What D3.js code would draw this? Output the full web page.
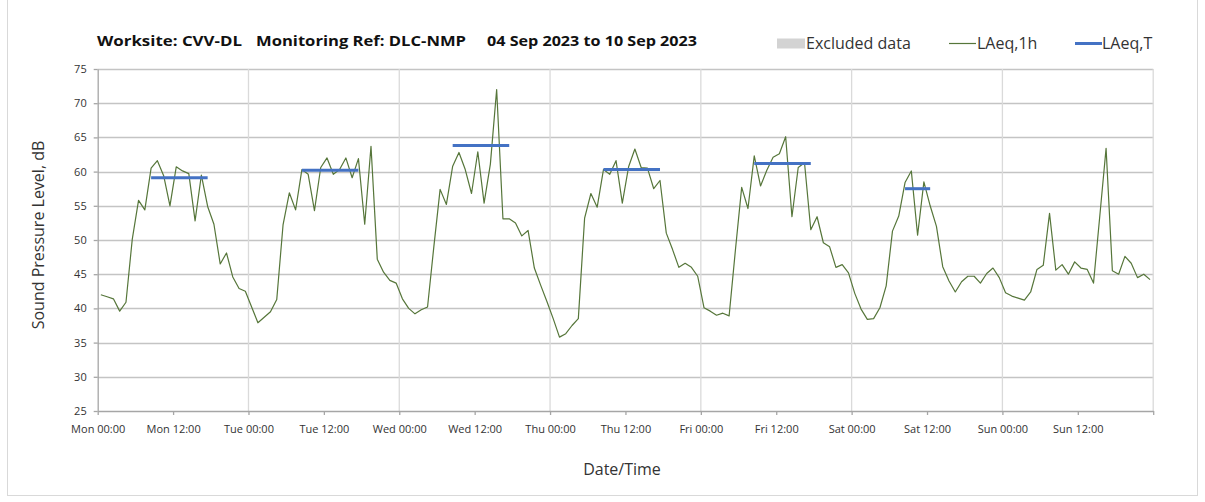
<!DOCTYPE html>
<html>
<head>
<meta charset="utf-8">
<script src="https://cdn.jsdelivr.net/npm/d3@7"></script>
<style>
  body { margin: 0; background: #fff; }
  svg { display: block; font-family: "Open Sans", sans-serif; }
</style>
</head>
<body>
<div id="chart"></div>
<script>
// LAeq,1h in dB, one value per hour (00:00 .. 23:00), one array per day
const mon = [42.0, 41.7, 41.4, 39.6, 40.9, 50.1, 55.8, 54.4, 60.5, 61.6, 59.4, 55.0,
             60.7, 60.1, 59.7, 52.8, 59.5, 54.9, 52.3, 46.5, 48.1, 44.6, 42.9, 42.5];
const tue = [40.2, 37.9, 38.7, 39.5, 41.3, 52.2, 56.9, 54.4, 60.3, 59.6, 54.3, 60.6,
             62.0, 59.6, 60.3, 62.0, 59.1, 61.9, 52.3, 63.7, 47.2, 45.3, 44.1, 43.7];
const wed = [41.4, 40.0, 39.2, 39.8, 40.2, 49.0, 57.4, 55.2, 60.8, 62.8, 60.3, 56.8,
             62.9, 55.4, 61.1, 72.0, 53.1, 53.1, 52.5, 50.6, 51.4, 45.9, 43.4, 41.0];
const thu = [38.5, 35.8, 36.3, 37.5, 38.5, 53.2, 56.8, 54.8, 60.3, 59.6, 61.6, 55.4,
             60.7, 63.3, 60.6, 60.5, 57.5, 58.7, 51.0, 48.6, 46.0, 46.6, 46.0, 44.7];
const fri = [40.1, 39.6, 39.0, 39.3, 38.9, 48.5, 57.7, 54.6, 62.3, 57.9, 60.2, 62.1,
             62.6, 65.1, 53.4, 60.6, 61.3, 51.5, 53.4, 49.6, 49.0, 46.0, 46.4, 45.2];
const sat = [42.2, 39.9, 38.4, 38.5, 40.1, 43.3, 51.3, 53.5, 58.4, 60.1, 50.7, 58.5,
             55.0, 52.0, 46.1, 44.0, 42.4, 43.9, 44.7, 44.7, 43.7, 45.1, 45.9, 44.5];
const sun = [42.3, 41.8, 41.5, 41.2, 42.4, 45.7, 46.3, 53.9, 45.6, 46.4, 45.0, 46.8,
             45.9, 45.7, 43.7, 53.5, 63.4, 45.5, 45.0, 47.6, 46.6, 44.5, 45.0, 44.2];

// LAeq,T daytime periods (drawn between first and last hourly point)
const periodFrom  = ["2023-09-04T08:30Z", "2023-09-05T08:30Z", "2023-09-06T08:30Z",
                     "2023-09-07T08:30Z", "2023-09-08T08:30Z", "2023-09-09T08:30Z"];
const periodTo    = ["2023-09-04T17:30Z", "2023-09-05T17:30Z", "2023-09-06T17:30Z",
                     "2023-09-07T17:30Z", "2023-09-08T17:30Z", "2023-09-09T12:30Z"];
const periodLevel = [59.1, 60.2, 63.8, 60.3, 61.2, 57.5];

const yTicks = [25, 30, 35, 40, 45, 50, 55, 60, 65, 70, 75];
const weekStart = new Date("2023-09-04T00:00Z");
const weekEnd = new Date("2023-09-11T00:00Z");

const W = 1205, H = 502;
const svg = d3.select("#chart").append("svg")
    .attr("width", W)
    .attr("height", H);

// chart frame
svg.append("rect")
    .attr("x", 7.5).attr("y", -2)
    .attr("width", 1190).attr("height", 497.5)
    .attr("fill", "none")
    .attr("stroke", "#d9d9d9");

const x = d3.scaleUtc().domain([weekStart, weekEnd]).range([97.7, 1153.2]);
const y = d3.scaleLinear().domain([25, 75]).range([411, 69]);

// hourly series, each value sits at the middle of its hour
const series = [];
[mon, tue, wed, thu, fri, sat, sun].forEach((day, d) => {
    day.forEach((v, h) => {
        series.push({ t: d3.utcMinute.offset(weekStart, (d * 24 + h) * 60 + 30), v: v });
    });
});

const periods = periodLevel.map((v, i) => ({
    from: new Date(periodFrom[i]), to: new Date(periodTo[i]), v: v
}));

// grid
svg.append("g")
    .selectAll("line")
    .data(yTicks.filter(t => t > 25))
    .join("line")
    .attr("x1", x.range()[0]).attr("x2", x.range()[1])
    .attr("y1", d => Math.round(y(d)) + 0.5).attr("y2", d => Math.round(y(d)) + 0.5)
    .attr("stroke", "#c4c4c4")
    .attr("stroke-width", 1.3);

svg.append("g")
    .selectAll("line")
    .data(d3.utcDay.range(d3.utcDay.offset(weekStart, 1), d3.utcDay.offset(weekEnd, 1)))
    .join("line")
    .attr("x1", d => x(d)).attr("x2", d => x(d))
    .attr("y1", y(75)).attr("y2", y(25))
    .attr("stroke", "#dadada")
    .attr("stroke-width", 1.3);

// axes
const fmt = d3.utcFormat("%a %H:%M");
const xAxis = svg.append("g")
    .attr("transform", `translate(0,${y(25)})`)
    .call(d3.axisBottom(x)
        .tickValues(d3.utcHour.every(12).range(weekStart, d3.utcHour.offset(weekEnd, 1)))
        .tickSize(4)
        .tickSizeOuter(0)
        .tickPadding(10)
        .tickFormat(d => d < weekEnd ? fmt(d) : ""));

const yAxis = svg.append("g")
    .attr("transform", `translate(${x.range()[0]},0)`)
    .call(d3.axisLeft(y)
        .tickValues(yTicks)
        .tickSize(4)
        .tickSizeOuter(0)
        .tickPadding(7));

[xAxis, yAxis].forEach(g => {
    g.select(".domain").attr("stroke", "#a6a6a6").attr("stroke-width", 1.3);
    g.selectAll(".tick line").attr("stroke", "#a6a6a6").attr("stroke-width", 1.3);
    g.selectAll(".tick text")
        .attr("fill", "#333")
        .attr("font-family", "'Open Sans', sans-serif")
        .attr("font-size", 11);
});

// LAeq,1h line
svg.append("path")
    .datum(series)
    .attr("fill", "none")
    .attr("stroke", "#56763a")
    .attr("stroke-width", 1.2)
    .attr("stroke-linejoin", "round")
    .attr("d", d3.line().x(d => x(d.t)).y(d => y(d.v)));

// LAeq,T segments
svg.append("g")
    .selectAll("line")
    .data(periods)
    .join("line")
    .attr("x1", d => x(d.from)).attr("x2", d => x(d.to))
    .attr("y1", d => y(d.v)).attr("y2", d => y(d.v))
    .attr("stroke", "#4472c4")
    .attr("stroke-width", 3);

// title
const title = [
    ["Worksite: CVV-DL", 97, 145],
    ["Monitoring Ref: DLC-NMP", 256, 210],
    ["04 Sep 2023 to 10 Sep 2023", 487, 210]
];
svg.append("g")
    .selectAll("text")
    .data(title)
    .join("text")
    .attr("x", d => d[1]).attr("y", 46)
    .attr("textLength", d => d[2])
    .attr("lengthAdjust", "spacingAndGlyphs")
    .attr("font-size", 14.5)
    .attr("font-weight", "bold")
    .attr("fill", "#111")
    .text(d => d[0]);

// legend
const legend = svg.append("g").attr("font-size", 16).attr("fill", "#333");
legend.append("rect")
    .attr("x", 777).attr("y", 38.5).attr("width", 28).attr("height", 10)
    .attr("fill", "#d3d3d3");
legend.append("text").attr("x", 806).attr("y", 49).text("Excluded data");
legend.append("line")
    .attr("x1", 949).attr("x2", 976).attr("y1", 43.5).attr("y2", 43.5)
    .attr("stroke", "#56763a").attr("stroke-width", 1.2);
legend.append("text").attr("x", 977).attr("y", 49).text("LAeq,1h");
legend.append("line")
    .attr("x1", 1075).attr("x2", 1102).attr("y1", 43.5).attr("y2", 43.5)
    .attr("stroke", "#4472c4").attr("stroke-width", 3);
legend.append("text").attr("x", 1102).attr("y", 49).text("LAeq,T");

// axis titles
svg.append("text")
    .attr("transform", `translate(44,235) rotate(-90)`)
    .attr("text-anchor", "middle")
    .attr("font-size", 16)
    .attr("fill", "#333")
    .text("Sound Pressure Level, dB");

svg.append("text")
    .attr("x", 622).attr("y", 475)
    .attr("text-anchor", "middle")
    .attr("font-size", 16)
    .attr("fill", "#333")
    .text("Date/Time");
</script>
</body>
</html>
